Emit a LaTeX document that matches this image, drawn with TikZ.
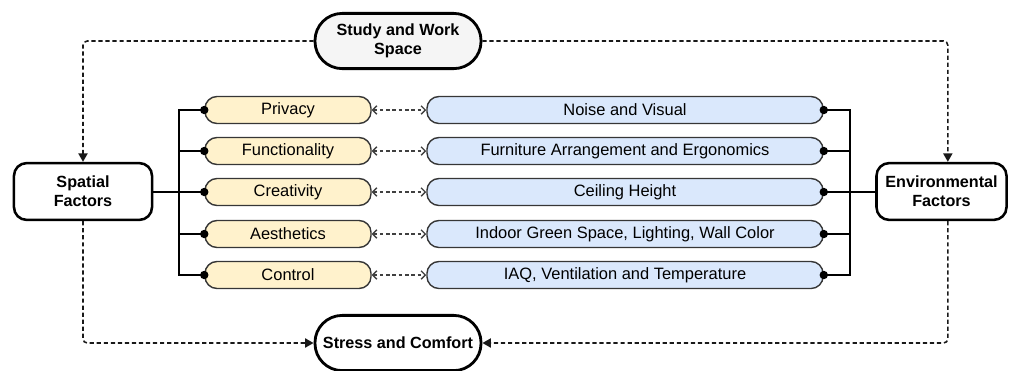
\documentclass[tikz,border=0pt]{standalone}
\usepackage{fontspec}
\setmainfont{Liberation Sans}
\usetikzlibrary{arrows.meta,positioning,calc}
\definecolor{spyellow}{HTML}{FFF2CC}
\definecolor{spblue}{HTML}{DAE8FC}
\definecolor{spgray}{HTML}{F5F5F5}
\definecolor{boxline}{HTML}{363636}

\begin{document}
\begin{tikzpicture}[x=0.025cm, y=-0.025cm, line width=1pt,
main node/.style={draw=black, line width=1.8pt, fill=white, rounded corners=9pt, align=center, inner sep=2pt, font=\bfseries\fontsize{11.5}{13.5}\selectfont, minimum width=3.45cm, minimum height=1.42cm},
end node/.style={main node, line width=2pt, rounded corners=0.68cm, minimum width=4.15cm, minimum height=1.38cm},
item node/.style={draw=boxline, line width=1pt, fill=spyellow, rounded corners=0.3cm, inner sep=0pt, font=\fontsize{11.7}{13}\selectfont, minimum width=4.15cm, minimum height=0.675cm},
factor node/.style={item node, fill=spblue, minimum width=9.9cm},
joint/.style={circle, fill=black, inner sep=0pt, minimum size=6pt},
link/.style={draw=black!90, line width=1.1pt, dash pattern=on 3pt off 2pt, rounded corners=3pt, -{Triangle[length=6pt,width=6.5pt]}},
pair/.style={draw=black!75, dash pattern=on 2.5pt off 2pt, {Straight Barb[length=3pt,width=6pt]}-{Straight Barb[length=3pt,width=6pt]}}]
\useasboundingbox (0,0) rectangle (1018,370);
\begin{scope}
\node[end node, fill=spgray] (study) at (398,41) {Study and Work\\Space};
\node[end node] (stress) at (398,343) {Stress and Comfort};
\node[main node] (spatial) at (83,191.5) {Spatial\\Factors};
\node[main node, minimum width=3.25cm] (env) at (941.5,191.5) {Environmental\\Factors};
\node[item node] (s1) at (288,110) {Privacy};
\node[item node] (s2) at (288,151) {Functionality};
\node[item node] (s3) at (288,192) {Creativity};
\node[item node] (s4) at (288,234) {Aesthetics};
\node[item node] (s5) at (288,275) {Control};
\node[factor node] (e1) at (625,110) {Noise and Visual};
\node[factor node] (e2) at (625,151) {Furniture Arrangement and Ergonomics};
\node[factor node] (e3) at (625,192) {Ceiling Height};
\node[factor node] (e4) at (625,234) {Indoor Green Space, Lighting, Wall Color};
\node[factor node] (e5) at (625,275) {IAQ, Ventilation and Temperature};
\coordinate (lbar) at (179,192);
\coordinate (rbar) at (850,192);
\end{scope}
\begin{scope}
% brackets
\draw (s1.west) -| (lbar) |- (s5.west);
\draw (s2.west) -| (lbar);
\draw (s4.west) -| (lbar);
\draw (spatial.east |- s3.west) -- (s3.west);
\draw (e1.east) -| (rbar) |- (e5.east);
\draw (e2.east) -| (rbar);
\draw (e4.east) -| (rbar);
\draw (e3.east) -- (env.west |- e3.east);
\foreach \i in {1,...,5}{
  \node[joint] at (s\i.west) {};
  \node[joint] at (e\i.east) {};
  \draw[pair] (s\i.east) -- (e\i.west);
}
% dashed links
\draw[link] (study.west) -| (spatial.north);
\draw[link] (study.east) -| ([xshift=4.5]env.north);
\draw[link] (spatial.south) |- (stress.west);
\draw[link] ([xshift=4.5]env.south) |- (stress.east);
\end{scope}
\end{tikzpicture}
\end{document}
